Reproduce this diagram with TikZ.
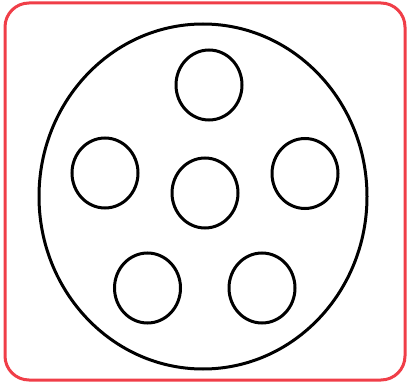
\documentclass[tikz,border=0pt]{standalone}
\usetikzlibrary{shapes.geometric}
\definecolor{framered}{RGB}{240,62,72}
\begin{document}
\begin{tikzpicture}[x=1pt,y=-1pt,
  hole/.style={ellipse,draw=black,line width=3pt,minimum width=66pt,minimum height=70pt,inner sep=0pt},
  disc/.style={ellipse,draw=black,line width=3pt,minimum width=328pt,minimum height=345pt,inner sep=0pt}]
\useasboundingbox (0,0) rectangle (407,385);
\draw[framered,line width=3pt,rounded corners=24pt] (5,3) rectangle (405,380);
\node[disc] (disc) at (203,196.5) {};
\node[hole] (top) at (209,85) {};
\node[hole] (left) at (105,173) {};
\node[hole] (mid) at (205,193) {};
\node[hole] (right) at (305,173.5) {};
\node[hole] (bl) at (147.5,288) {};
\node[hole] (br) at (262,288) {};
\end{tikzpicture}
\end{document}
